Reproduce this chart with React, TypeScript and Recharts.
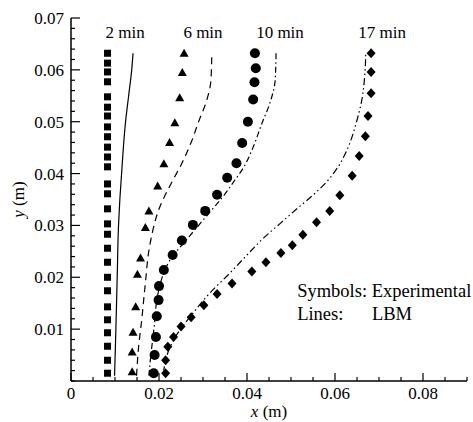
import React from "react"
import { ComposedChart, Scatter, XAxis, YAxis, ReferenceDot } from "recharts"

// measured profiles, x (m) vs height y (m)
const exp2min = [
  { x: 0.0083, y: 0.0632 }, { x: 0.0083, y: 0.0613 }, { x: 0.0083, y: 0.0596 }, { x: 0.0083, y: 0.0577 },
  { x: 0.0083, y: 0.0548 }, { x: 0.0083, y: 0.0528 }, { x: 0.0083, y: 0.0511 }, { x: 0.0083, y: 0.049 },
  { x: 0.0083, y: 0.0471 }, { x: 0.0083, y: 0.0451 }, { x: 0.0083, y: 0.0432 }, { x: 0.0083, y: 0.0413 },
  { x: 0.0083, y: 0.038 }, { x: 0.0083, y: 0.0361 }, { x: 0.0083, y: 0.0332 }, { x: 0.0083, y: 0.0303 },
  { x: 0.0083, y: 0.0283 }, { x: 0.0083, y: 0.0256 }, { x: 0.0083, y: 0.0229 }, { x: 0.0083, y: 0.02 },
  { x: 0.0083, y: 0.0174 }, { x: 0.0083, y: 0.0143 }, { x: 0.0083, y: 0.0118 }, { x: 0.0083, y: 0.0093 },
  { x: 0.0083, y: 0.0067 }, { x: 0.0083, y: 0.004 }, { x: 0.0083, y: 0.0015 },
]

const exp6min = [
  { x: 0.0257, y: 0.0632 }, { x: 0.0253, y: 0.0595 }, { x: 0.0247, y: 0.0546 }, { x: 0.0236, y: 0.0498 },
  { x: 0.0224, y: 0.046 }, { x: 0.0211, y: 0.0419 }, { x: 0.0197, y: 0.0376 }, { x: 0.0177, y: 0.0328 },
  { x: 0.0169, y: 0.0296 }, { x: 0.0158, y: 0.0237 }, { x: 0.0151, y: 0.0206 }, { x: 0.0147, y: 0.0143 },
  { x: 0.0141, y: 0.0094 }, { x: 0.0139, y: 0.0056 }, { x: 0.0139, y: 0.0018 },
]

const exp10min = [
  { x: 0.0418, y: 0.0632 }, { x: 0.042, y: 0.0603 }, { x: 0.0417, y: 0.0576 }, { x: 0.0414, y: 0.0543 },
  { x: 0.0402, y: 0.05 }, { x: 0.0389, y: 0.0459 }, { x: 0.0376, y: 0.042 }, { x: 0.0355, y: 0.0392 },
  { x: 0.0332, y: 0.0359 }, { x: 0.0305, y: 0.0328 }, { x: 0.0277, y: 0.0301 }, { x: 0.0252, y: 0.0271 },
  { x: 0.0231, y: 0.0243 }, { x: 0.0211, y: 0.0214 }, { x: 0.02, y: 0.0183 }, { x: 0.0199, y: 0.0156 },
  { x: 0.0195, y: 0.0125 }, { x: 0.0193, y: 0.0085 }, { x: 0.019, y: 0.005 }, { x: 0.0188, y: 0.0015 },
]

const exp17min = [
  { x: 0.0682, y: 0.0632 }, { x: 0.0682, y: 0.0596 }, { x: 0.0682, y: 0.0555 }, { x: 0.0675, y: 0.0511 },
  { x: 0.0669, y: 0.0472 }, { x: 0.0655, y: 0.0434 }, { x: 0.0639, y: 0.0396 }, { x: 0.0611, y: 0.0358 },
  { x: 0.0588, y: 0.0328 }, { x: 0.0558, y: 0.0306 }, { x: 0.0527, y: 0.0282 }, { x: 0.0503, y: 0.0262 },
  { x: 0.0477, y: 0.0247 }, { x: 0.0443, y: 0.0229 }, { x: 0.0411, y: 0.0211 }, { x: 0.0366, y: 0.0188 },
  { x: 0.0332, y: 0.0168 }, { x: 0.0302, y: 0.0146 }, { x: 0.0273, y: 0.0123 }, { x: 0.025, y: 0.0105 },
  { x: 0.0233, y: 0.0085 }, { x: 0.022, y: 0.0066 }, { x: 0.0215, y: 0.004 }, { x: 0.0215, y: 0.0015 },
]

// LBM profiles, listed bottom to top
const lbm2min = [
  { x: 0.0099, y: 0.001 }, { x: 0.0102, y: 0.01 }, { x: 0.0105, y: 0.02 }, { x: 0.0108, y: 0.03 },
  { x: 0.0111, y: 0.035 }, { x: 0.0115, y: 0.04 }, { x: 0.0119, y: 0.045 }, { x: 0.0124, y: 0.05 },
  { x: 0.0131, y: 0.055 }, { x: 0.0138, y: 0.06 }, { x: 0.0141, y: 0.0632 },
]

const lbm6min = [
  { x: 0.0149, y: 0.001 }, { x: 0.0153, y: 0.006 }, { x: 0.0161, y: 0.012 }, { x: 0.0168, y: 0.018 },
  { x: 0.018, y: 0.0266 }, { x: 0.0202, y: 0.0336 }, { x: 0.0227, y: 0.038 }, { x: 0.0252, y: 0.042 },
  { x: 0.0273, y: 0.046 }, { x: 0.029, y: 0.05 }, { x: 0.0308, y: 0.054 }, { x: 0.0318, y: 0.058 },
  { x: 0.032, y: 0.0632 },
]

const lbm10min = [
  { x: 0.0177, y: 0.001 }, { x: 0.0181, y: 0.0046 }, { x: 0.0189, y: 0.0104 }, { x: 0.0198, y: 0.017 },
  { x: 0.0225, y: 0.0233 }, { x: 0.027, y: 0.028 }, { x: 0.0316, y: 0.0326 }, { x: 0.0343, y: 0.0353 },
  { x: 0.0368, y: 0.0382 }, { x: 0.0393, y: 0.0413 }, { x: 0.0414, y: 0.0451 }, { x: 0.0434, y: 0.0497 },
  { x: 0.0452, y: 0.0536 }, { x: 0.0464, y: 0.058 }, { x: 0.0466, y: 0.0632 },
]

const lbm17min = [
  { x: 0.021, y: 0.0015 }, { x: 0.0215, y: 0.004 }, { x: 0.0237, y: 0.0085 }, { x: 0.027, y: 0.0123 },
  { x: 0.0316, y: 0.017 }, { x: 0.0361, y: 0.0208 }, { x: 0.04, y: 0.0243 }, { x: 0.0438, y: 0.0276 },
  { x: 0.0477, y: 0.0305 }, { x: 0.0516, y: 0.0334 }, { x: 0.0548, y: 0.0357 }, { x: 0.0582, y: 0.0385 },
  { x: 0.0607, y: 0.0413 }, { x: 0.063, y: 0.0451 }, { x: 0.0648, y: 0.0497 }, { x: 0.0661, y: 0.0542 },
  { x: 0.0668, y: 0.0594 }, { x: 0.067, y: 0.0632 },
]

const xTicks = [
  0, 0.005, 0.01, 0.015, 0.02, 0.025, 0.03, 0.035, 0.04, 0.045,
  0.05, 0.055, 0.06, 0.065, 0.07, 0.075, 0.08, 0.085, 0.09,
]
const xLabels = [0, 0.02, 0.04, 0.06, 0.08]

const yTicks = [
  0, 0.002, 0.004, 0.006, 0.008, 0.01, 0.012, 0.014, 0.016, 0.018,
  0.02, 0.022, 0.024, 0.026, 0.028, 0.03, 0.032, 0.034, 0.036, 0.038,
  0.04, 0.042, 0.044, 0.046, 0.048, 0.05, 0.052, 0.054, 0.056, 0.058,
  0.06, 0.062, 0.064, 0.066, 0.068, 0.07,
]
const yLabels = [0.01, 0.02, 0.03, 0.04, 0.05, 0.06, 0.07]

const timeLabels = [
  { text: "2 min", x: 0.0123, y: 0.0673 },
  { text: "6 min", x: 0.03, y: 0.0673 },
  { text: "10 min", x: 0.0475, y: 0.0673 },
  { text: "17 min", x: 0.0707, y: 0.0673 },
]

const serif: React.CSSProperties = {
  fontFamily: '"Liberation Serif", "Times New Roman", Times, "DejaVu Serif", serif',
  fontSize: 17,
  fill: "#000",
}
const legendFont: React.CSSProperties = { ...serif, fontSize: 18.5 }

const XTick = (props: any) => {
  const { x, y, payload } = props
  const major = xLabels.includes(payload.value)
  return (
    <g>
      <line x1={x} y1={y} x2={x} y2={y - (major ? 8 : 4)} stroke="#000" strokeWidth={1.2} />
      {major && (
        <text x={x} y={y + 18} textAnchor="middle" style={serif}>
          {payload.value === 0 ? "0" : payload.value.toFixed(2)}
        </text>
      )}
    </g>
  )
}

const YTick = (props: any) => {
  const { x, y, payload } = props
  const major = yLabels.includes(payload.value)
  return (
    <g>
      <line x1={x} y1={y} x2={x + (major ? 9 : 4)} y2={y} stroke="#000" strokeWidth={1.2} />
      {major && (
        <text x={x - 7} y={y} dy="0.35em" textAnchor="end" style={serif}>
          {payload.value.toFixed(2)}
        </text>
      )}
    </g>
  )
}

const XTitle = ({ viewBox }: any) => (
  <text x={viewBox.x + viewBox.width / 2} y={viewBox.y + 36} textAnchor="middle" style={serif}>
    <tspan fontStyle="italic">x</tspan> (m)
  </text>
)

const YTitle = ({ viewBox }: any) => {
  const cx = viewBox.x + 18
  const cy = viewBox.y + viewBox.height / 2
  return (
    <text x={cx} y={cy} dy="0.35em" textAnchor="middle" transform={`rotate(-90 ${cx} ${cy})`} style={serif}>
      <tspan fontStyle="italic">y</tspan> (m)
    </text>
  )
}

const Square = ({ cx, cy }: any) => <rect x={cx - 3.5} y={cy - 3.5} width={7} height={7} fill="#000" />
const Triangle = ({ cx, cy }: any) => (
  <path d={`M${cx},${cy - 4.5}L${cx + 4.5},${cy + 3.5}L${cx - 4.5},${cy + 3.5}Z`} fill="#000" />
)
const Dot = ({ cx, cy }: any) => <circle cx={cx} cy={cy} r={5} fill="#000" />
const Diamond = ({ cx, cy }: any) => (
  <path d={`M${cx},${cy - 5}L${cx + 4.5},${cy}L${cx},${cy + 5}L${cx - 4.5},${cy}Z`} fill="#000" />
)
const NoMark = () => <g />

const PlainLabel = ({ viewBox, value, anchor, font }: any) => (
  <text x={viewBox.x} y={viewBox.y} dy="0.35em" textAnchor={anchor} style={font || serif}>
    {value}
  </text>
)

const lines = [
  { data: lbm2min, dash: undefined },
  { data: lbm6min, dash: "7 5" },
  { data: lbm10min, dash: "6 3 1.5 3" },
  { data: lbm17min, dash: "7 3 1.5 3 1.5 3" },
]

export default function App() {
  return (
    <div style={{ position: "absolute", left: 0, top: 0, background: "#fff" }}>
      <ComposedChart width={473} height={422} margin={{ top: 18, right: 6, bottom: 0, left: 0 }}>
        <XAxis
          type="number"
          dataKey="x"
          domain={[0, 0.09]}
          ticks={xTicks}
          interval={0}
          tickSize={0}
          tickMargin={0}
          tickLine={false}
          tick={<XTick />}
          height={41}
          axisLine={{ stroke: "#000", strokeWidth: 1.5 }}
          label={<XTitle />}
        />
        <YAxis
          type="number"
          dataKey="y"
          domain={[0, 0.07]}
          ticks={yTicks}
          interval={0}
          tickSize={0}
          tickMargin={0}
          tickLine={false}
          tick={<YTick />}
          width={71}
          axisLine={{ stroke: "#000", strokeWidth: 1.5 }}
          label={<YTitle />}
        />
        {lines.map((l, i) => (
          <Scatter
            key={`lbm-${i}`}
            data={l.data}
            shape={<NoMark />}
            line={{ stroke: "#000", strokeWidth: 1.2, strokeDasharray: l.dash }}
            lineType="joint"
            lineJointType="monotoneY"
            isAnimationActive={false}
          />
        ))}
        <Scatter data={exp2min} shape={<Square />} isAnimationActive={false} />
        <Scatter data={exp6min} shape={<Triangle />} isAnimationActive={false} />
        <Scatter data={exp10min} shape={<Dot />} isAnimationActive={false} />
        <Scatter data={exp17min} shape={<Diamond />} isAnimationActive={false} />
        {timeLabels.map((t) => (
          <ReferenceDot
            key={t.text}
            x={t.x}
            y={t.y}
            r={0}
            stroke="none"
            label={<PlainLabel value={t.text} anchor="middle" />}
          />
        ))}
        <ReferenceDot x={0.0514} y={0.0175} r={0} stroke="none" label={<PlainLabel value="Symbols: Experimental" anchor="start" font={legendFont} />} />
        <ReferenceDot x={0.0514} y={0.0131} r={0} stroke="none" label={<PlainLabel value="Lines:" anchor="start" font={legendFont} />} />
        <ReferenceDot x={0.0684} y={0.0131} r={0} stroke="none" label={<PlainLabel value="LBM" anchor="start" font={legendFont} />} />
      </ComposedChart>
    </div>
  )
}
